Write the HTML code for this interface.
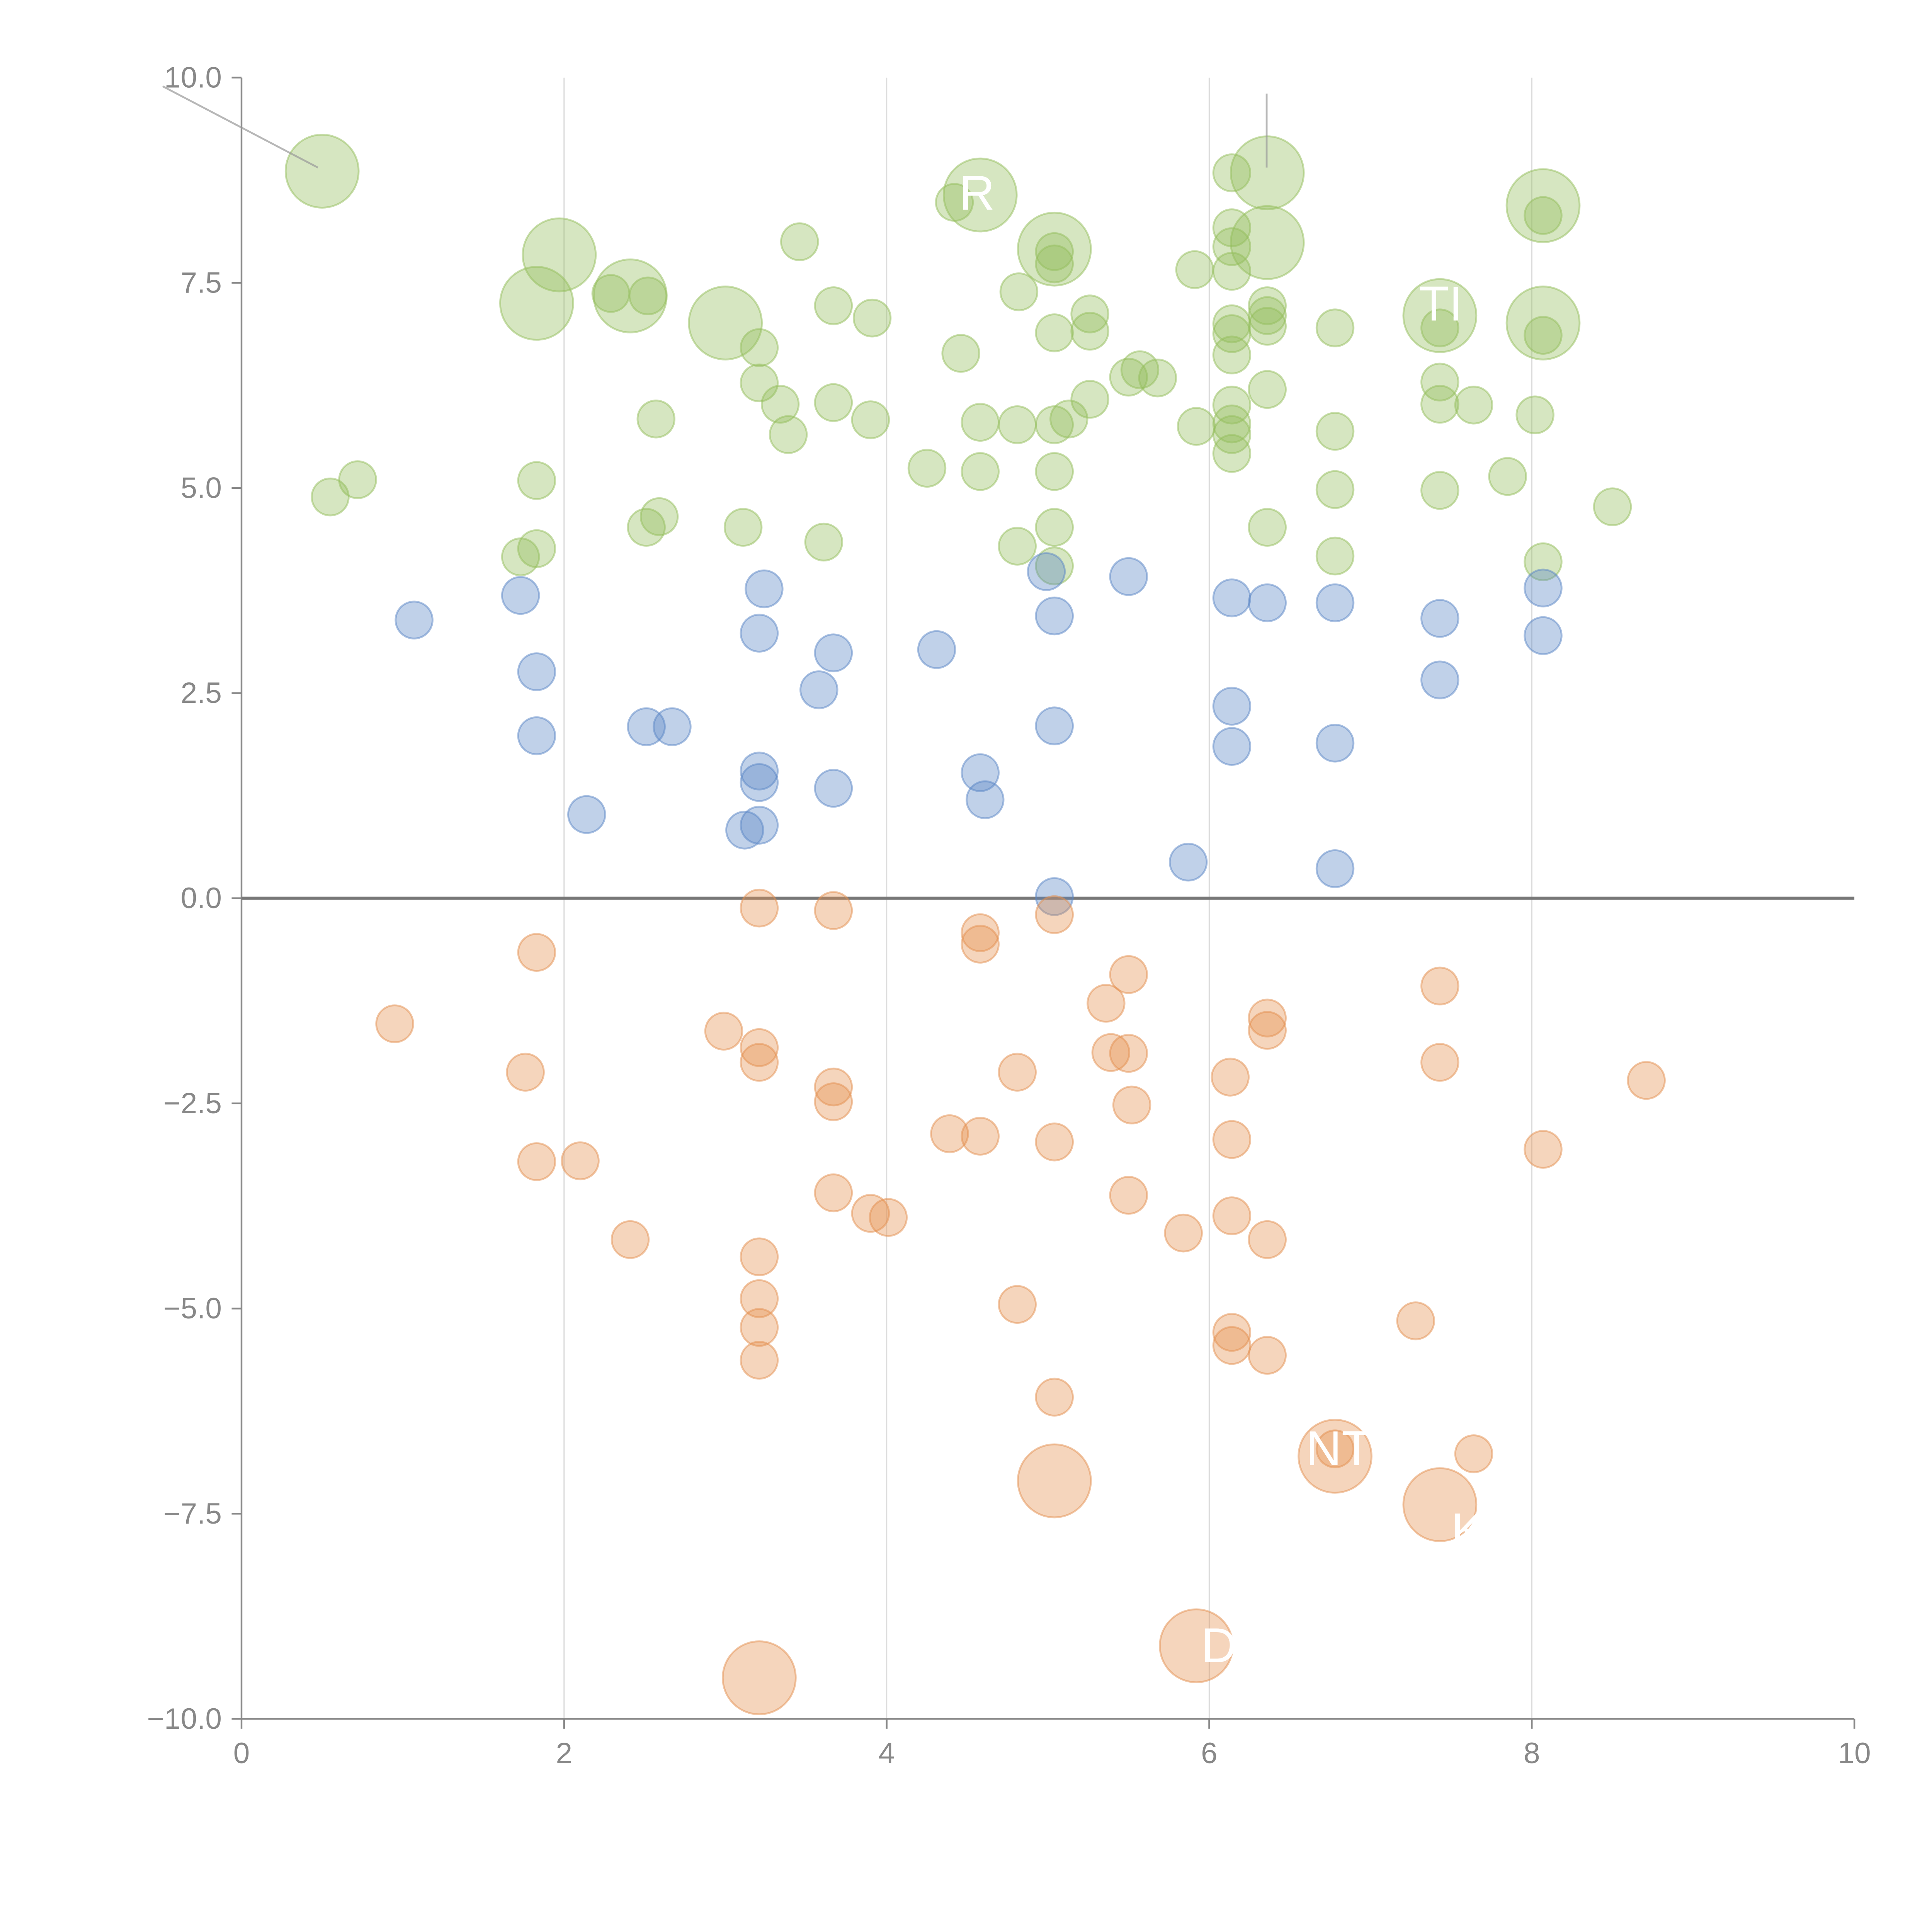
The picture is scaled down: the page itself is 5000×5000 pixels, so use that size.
<!DOCTYPE html>
<html><head><meta charset="utf-8"><style>html,body{margin:0;padding:0;background:#fff}svg{display:block}</style></head>
<body>
<svg id="chart" width="5000" height="5000" viewBox="0 0 1568 1568" xmlns="http://www.w3.org/2000/svg" font-family="Liberation Sans, sans-serif">
<g id="grid"></g>
<g id="axes"></g>
<g id="marks"></g>
<g id="labels"></g>
</svg>
<script>
const greenX=[0.55,0.72,1.83,1.73,1.83,2.51,2.59,2.57,2.29,2.52,3.11,3.21,3.21,3.34,3.39,3.46,3.61,3.67,3.67,3.90,3.91,4.25,4.42,4.46,4.58,4.58,4.81,4.81,4.82,5.04,5.04,5.04,5.04,5.04,5.04,5.04,5.13,5.26,5.26,5.26,5.50,5.57,5.68,5.91,5.92,6.14,6.14,6.14,6.14,6.14,6.14,6.14,6.14,6.14,6.14,6.14,6.36,6.36,6.36,6.36,6.36,6.78,6.78,6.78,6.78,7.43,7.43,7.43,7.43,7.64,7.85,8.02,8.07,8.07,8.07,8.50,
0.50,1.97,1.83,2.41,3.00,4.58,5.04,6.36,6.36,7.43,8.07,8.07];
const greenY=[4.89,5.10,5.09,4.16,4.26,4.52,4.65,5.84,7.37,7.34,4.52,6.71,6.28,6.02,5.65,8.00,4.34,7.22,6.04,5.83,7.07,5.24,8.48,6.64,5.80,5.20,4.29,5.77,7.39,7.88,7.73,6.89,5.77,5.20,4.52,4.05,5.84,7.12,6.91,6.08,6.35,6.44,6.34,7.66,5.75,8.84,8.17,7.94,7.64,7.00,6.88,6.62,6.01,5.78,5.65,5.42,7.22,7.10,6.97,6.20,4.52,6.95,5.69,4.98,4.17,6.95,6.29,6.02,4.97,6.01,5.14,5.89,8.32,6.86,4.10,4.77,
8.86,7.84,7.25,7.34,7.01,8.57,7.91,8.84,7.99,7.10,8.44,7.01];
const greenS=[1,1,1,1,1,1,1,1,1,1,1,1,1,1,1,1,1,1,1,1,1,1,1,1,1,1,1,1,1,1,1,1,1,1,1,1,1,1,1,1,1,1,1,1,1,1,1,1,1,1,1,1,1,1,1,1,1,1,1,1,1,1,1,1,1,1,1,1,1,1,1,1,1,1,1,1,
3.9,3.9,3.9,3.9,3.9,3.9,3.9,3.9,3.9,3.9,3.9,3.9];
const blueX=[1.07,1.73,1.83,1.83,2.14,2.51,2.67,3.12,3.21,3.21,3.21,3.21,3.24,3.58,3.67,3.67,4.31,4.58,4.61,4.99,5.04,5.04,5.04,5.50,5.87,6.14,6.14,6.14,6.36,6.78,6.78,6.78,7.43,7.43,8.07,8.07];
const blueY=[3.39,3.69,2.76,1.98,1.02,2.09,2.09,0.83,0.89,1.55,1.41,3.23,3.77,2.54,2.99,1.34,3.03,1.53,1.20,3.98,3.44,2.10,0.02,3.92,0.44,3.66,2.34,1.85,3.60,3.60,1.89,0.36,3.41,2.66,3.78,3.20];
const blueS=blueX.map(()=>1);
const orangeX=[0.95,1.76,1.83,1.83,2.10,2.41,2.99,3.21,3.21,3.21,3.21,3.21,3.21,3.21,3.67,3.67,3.67,3.67,3.90,4.01,4.39,4.58,4.58,4.58,4.81,4.81,5.04,5.04,5.04,5.36,5.39,5.50,5.50,5.52,5.50,5.84,6.13,6.14,6.14,6.14,6.14,6.36,6.36,6.36,6.36,6.78,7.28,7.43,7.43,7.64,8.07,8.71,
3.21,5.92,5.04,6.78,7.43];
const orangeY=[-1.53,-2.12,-0.66,-3.21,-3.20,-4.16,-1.62,-0.12,-1.82,-2.00,-4.37,-4.88,-5.23,-5.63,-0.15,-2.30,-2.48,-3.59,-3.84,-3.89,-2.87,-0.42,-0.56,-2.90,-2.12,-4.95,-0.20,-2.97,-6.08,-1.28,-1.88,-0.93,-1.89,-2.52,-3.62,-4.08,-2.18,-2.94,-3.87,-5.29,-5.45,-1.46,-1.61,-4.16,-5.57,-6.71,-5.15,-1.07,-2.00,-6.77,-3.06,-2.22,
-9.50,-9.11,-7.10,-6.80,-7.39];
const orangeS=[1,1,1,1,1,1,1,1,1,1,1,1,1,1,1,1,1,1,1,1,1,1,1,1,1,1,1,1,1,1,1,1,1,1,1,1,1,1,1,1,1,1,1,1,1,1,1,1,1,1,1,1,
3.9,3.9,3.9,3.9,3.9];
const xTicks=[0,2,4,6,8,10];
const yTicks=[-10,-7.5,-5,-2.5,0,2.5,5,7.5,10];
const NS='http://www.w3.org/2000/svg';
const X0=196,X1=1505,Y0=1395,Y1=63;
function sx(v){return X0+(v-0)/(10-0)*(X1-X0);}
function sy(v){return Y0-(v+10)/20*(Y0-Y1);}
function sr(s){return 15*Math.sqrt(s);}
function mk(tag,attrs,parent){const e=document.createElementNS(NS,tag);for(const k in attrs)e.setAttribute(k,attrs[k]);parent.appendChild(e);return e;}
const grid=document.getElementById('grid'),axes=document.getElementById('axes'),marks=document.getElementById('marks'),labels=document.getElementById('labels');
xTicks.forEach(t=>{if(t>0&&t<10){const l=mk('line',{x1:sx(t),x2:sx(t),y1:Y1,y2:Y0,stroke:'#dcdcdc','stroke-width':1},grid);

}});
let a=mk('line',{x1:X0,x2:X0,y1:Y1,y2:Y0,stroke:'#888','stroke-width':1.4},axes);


a=mk('line',{x1:X0,x2:X1,y1:Y0,y2:Y0,stroke:'#888','stroke-width':1.4},axes);


xTicks.forEach(t=>{mk('line',{x1:sx(t),x2:sx(t),y1:Y0,y2:Y0+8,stroke:'#888','stroke-width':1.4},axes);
const tx=mk('text',{x:sx(t),y:Y0+36,'text-anchor':'middle','font-size':24,fill:'#888'},axes);tx.textContent=String(t);

});
yTicks.forEach(t=>{mk('line',{x1:X0-8,x2:X0,y1:sy(t),y2:sy(t),stroke:'#888','stroke-width':1.4},axes);
const tx=mk('text',{x:X0-16,y:sy(t)+8,'text-anchor':'end','font-size':24,fill:'#888'},axes);tx.textContent=(t<0?'\u2212':'')+Math.abs(t).toFixed(1);

});
function series(xs,ys,ss,col,name){xs.forEach((x,i)=>{const c=mk('circle',{cx:sx(x),cy:sy(ys[i]),r:sr(ss[i]),fill:col,'fill-opacity':0.38,stroke:col,'stroke-opacity':0.5,'stroke-width':1.5},marks);

});}
series(greenX,greenY,greenS,'#93bd5c','green-bubble');
series(blueX,blueY,blueS,'#5a86c6','blue-bubble');
series(orangeX,orangeY,orangeS,'#e4904f','orange-bubble');
const z=mk('line',{x1:X0,x2:X1,y1:sy(0),y2:sy(0),stroke:'#777','stroke-width':2.5},axes);


let ld=mk('line',{x1:132,y1:70,x2:258,y2:136,stroke:'#999','stroke-opacity':0.7,'stroke-width':1.5},labels);


ld=mk('line',{x1:1028,y1:76,x2:1028,y2:136,stroke:'#999','stroke-opacity':0.7,'stroke-width':1.5},labels);


const lblText=['R','TI','D','NT','K'];
const lblX=[4.45,7.3,5.95,6.6,7.5];
const lblY=[8.6,7.25,-9.1,-6.7,-7.7];
lblText.forEach((s,i)=>{const t=mk('text',{x:sx(lblX[i]),y:sy(lblY[i])+14,'font-size':40,fill:'#fff'},labels);t.textContent=s;

});
</script>
</body></html>
